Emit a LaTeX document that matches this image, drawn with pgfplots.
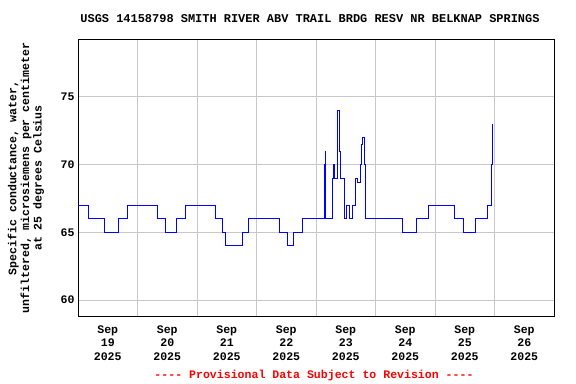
\documentclass[border=0pt]{standalone}
\usepackage{fontspec}
\setmonofont{Liberation Mono}
\usepackage{pgfplots}
\pgfplotsset{compat=1.18}
\definecolor{gridgray}{RGB}{200,200,200}
\newcommand{\lbl}{\ttfamily\bfseries\fontsize{11.6}{13.5}\selectfont}
\begin{document}
\begin{tikzpicture}
\useasboundingbox (0,0) rectangle (576bp,384bp);
\begin{axis}[
 at={(78bp,68bp)}, anchor=south west,
 scale only axis, width=476bp, height=276bp,
 xmin=0, xmax=8, ymin=58.82, ymax=79.21,
 xtick={0.5,1.5,2.5,3.5,4.5,5.5,6.5,7.5},
 xticklabels={{Sep\\19\\2025},{Sep\\20\\2025},{Sep\\21\\2025},{Sep\\22\\2025},{Sep\\23\\2025},{Sep\\24\\2025},{Sep\\25\\2025},{Sep\\26\\2025}},
 minor xtick={1,2,3,4,5,6,7},
 xminorgrids=true, xmajorgrids=false, ymajorgrids=true,
 ytick={60,65,70,75},
 grid style={gridgray, line width=1bp},
 minor grid style={gridgray, line width=1bp},
 major tick length=0pt, minor tick length=0pt,
 tick style={draw=none},
 axis line style={black, line width=1bp},
 /pgf/number format/assume math mode=true,
 ticklabel style={font=\lbl},
 xticklabel style={align=center, yshift=-6bp},
]
\addplot[const plot, color={rgb,255:red,0;green,0;blue,255}, line width=1bp] coordinates {
(0.000,67) (0.173,66) (0.442,65) (0.681,66) (0.824,67)
(1.333,66) (1.474,65) (1.655,66) (1.807,67)
(2.319,66) (2.425,65) (2.471,64) (2.761,65) (2.862,66)
(3.387,65) (3.518,64) (3.630,65) (3.773,66)
(4.138,70) (4.148,66) (4.156,71) (4.168,66)
(4.269,69) (4.286,70) (4.303,69) (4.366,74) (4.403,71) (4.420,69)
(4.482,66) (4.516,67) (4.571,66) (4.605,67) (4.672,69) (4.694,68.7)
(4.756,70) (4.768,71.5) (4.785,72) (4.807,70) (4.824,66)
(5.462,65) (5.681,66) (5.899,67)
(6.336,66) (6.476,65) (6.684,66) (6.882,67) (6.946,70) (6.966,73)
};
\end{axis}
\node[font=\ttfamily\bfseries\fontsize{12}{14}\selectfont] at (310bp,365bp) {USGS 14158798 SMITH RIVER ABV TRAIL BRDG RESV NR BELKNAP SPRINGS};
\node[rotate=90, align=center, font=\ttfamily\bfseries\fontsize{11.6}{12.6}\selectfont] at (26bp,206bp) {Specific conductance, water,\\unfiltered, microsiemens per centimeter\\at 25 degrees Celsius};
\node[text=red, font=\lbl] at (314bp,8bp) {---- Provisional Data Subject to Revision ----};
\end{tikzpicture}
\end{document}
